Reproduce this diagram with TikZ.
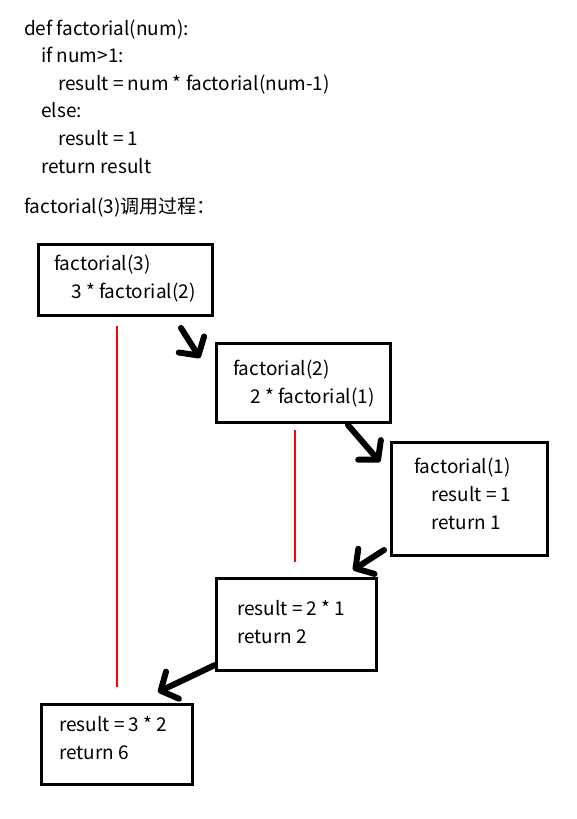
\documentclass[tikz,border=0pt]{standalone}
\usepackage{fontspec}
\setmainfont{Noto Sans CJK SC}
\usetikzlibrary{arrows.meta}
\newcommand{\ind}{\hspace*{17pt}}
\begin{document}
\begin{tikzpicture}[x=1pt,y=-1pt,
  box/.style={draw, line width=3pt, anchor=north west, inner sep=0pt},
  txt/.style={anchor=base west, align=left, inner sep=0pt, font=\fontsize{19}{28}\selectfont},
  call/.style={line width=6pt, line cap=round, -{Straight Barb[length=13pt,width=30pt,round]}},
  trace/.style={red, line width=1.2pt}]
\useasboundingbox[fill=white] (0,0) rectangle (576,819);
\node[txt, font=\fontsize{19}{27.6}\selectfont] (code) at (24,173) {def factorial(num):\\
\ind if num>1:\\
\ind\ind result = num * factorial(num-1)\\
\ind else:\\
\ind\ind result = 1\\
\ind return result};
\node[txt] (title) at (24,213) {factorial(3)调用过程：};
\node[box, minimum width=174pt, minimum height=71pt] (f3) at (37,243) {};
\node[box, minimum width=174pt, minimum height=79pt] (f2) at (215,342) {};
\node[box, minimum width=156pt, minimum height=113pt] (f1) at (390,441) {};
\node[box, minimum width=160pt, minimum height=92pt] (r2) at (215,577) {};
\node[box, minimum width=151pt, minimum height=80pt] (r3) at (40,703) {};
\node[txt] (t3) at ([shift={(17,55)}]f3.north west) {factorial(3)\\ \ind 3 * factorial(2)};
\node[txt] (t2) at ([shift={(18,61)}]f2.north west) {factorial(2)\\ \ind 2 * factorial(1)};
\node[txt] (t1) at ([shift={(24,88)}]f1.north west) {factorial(1)\\ \ind result = 1\\ \ind return 1};
\node[txt] (s2) at ([shift={(22,66)}]r2.north west) {result = 2 * 1\\ return 2};
\node[txt] (s3) at ([shift={(19,56)}]r3.north west) {result = 3 * 2\\ return 6};
\draw[call] ([shift={(-33,11)}]f3.south east) -- ([shift={(-15,16)}]f2.north west);
\draw[call] ([shift={(-44,1)}]f2.south east) -- ([shift={(-10,21)}]f1.north west);
\draw[call] ([shift={(-6,-7)}]f1.south west) -- ([shift={(-25,-7)}]r2.north east);
\draw[call] ([shift={(0,-7)}]r2.south west) -- ([shift={(118,-11)}]r3.north west);
\draw[trace] (117,326) -- (117,687);
\draw[trace] (295,430) -- (295,562);
\end{tikzpicture}
\end{document}
